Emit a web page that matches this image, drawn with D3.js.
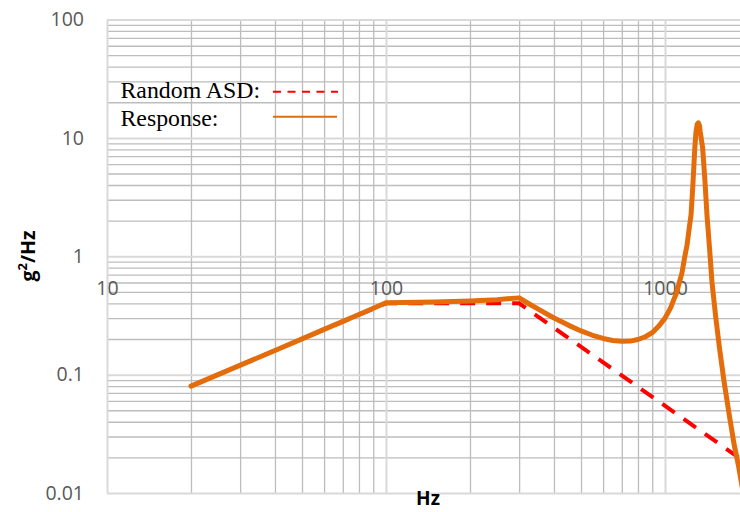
<!DOCTYPE html>
<html>
<head>
<meta charset="utf-8">
<script src="https://cdn.jsdelivr.net/npm/d3@7"></script>
<style>
  body { margin: 0; background: #fff; }
  svg { display: block; }
</style>
</head>
<body>
<div id="chart"></div>
<script>
// values
const freqLabels = [10, 100, 1000];
const ampLabels = [0.01, 0.1, 1, 10, 100];

const asdFreq = [20, 100, 300, 2000];
const asdValue = [0.08, 0.4, 0.4, 0.0173];

const respFreq = [20, 40, 60, 80, 100, 150, 200, 250, 300, 325, 350, 400, 450, 500, 550, 600, 650, 700, 750,
  800, 850, 900, 950, 1000, 1025, 1050, 1075, 1100, 1125, 1150, 1175, 1200, 1220, 1240, 1260, 1278, 1291,
  1304, 1317, 1330, 1338, 1365, 1391, 1414, 1444, 1474, 1517, 1568, 1627, 1696, 1767, 1834, 1900, 2000];
const respValue = [0.080, 0.160, 0.241, 0.322, 0.405, 0.411, 0.419, 0.430, 0.445, 0.397, 0.359, 0.301, 0.262, 0.234, 0.215, 0.202, 0.194, 0.191, 0.192,
  0.198, 0.209, 0.226, 0.257, 0.300, 0.334, 0.372, 0.430, 0.49, 0.60, 0.72, 0.97, 1.25, 1.7, 2.25, 4.2, 8.0, 11.2,
  13.0, 13.4, 12.6, 11.2, 8.1, 4.25, 2.22, 1.17, 0.60, 0.317, 0.167, 0.088, 0.047, 0.026, 0.017, 0.0105, 0.0055];

const seriesNames = ["Random ASD:", "Response:"];

const width = 740, height = 512;
const plotLeft = 107, plotRight = 749, plotTop = 19.5, plotBottom = 493;

const svg = d3.select("#chart").append("svg")
  .attr("width", width)
  .attr("height", height);

const x = d3.scaleLog().domain([10, 2000]).range([plotLeft, plotRight]);
const y = d3.scaleLog().domain([0.01, 100]).range([plotBottom, plotTop]);

svg.append("clipPath").attr("id", "plot")
  .append("rect")
  .attr("x", plotLeft).attr("y", plotTop - 3)
  .attr("width", plotRight - plotLeft).attr("height", plotBottom - plotTop + 3);

// minor gridlines
svg.append("g")
  .attr("transform", `translate(0,${plotBottom})`)
  .call(d3.axisBottom(x).tickValues(x.ticks().filter(d => !freqLabels.includes(d))).tickSize(-(plotBottom - plotTop)).tickFormat(""))
  .call(g => g.select(".domain").remove())
  .selectAll("line").attr("stroke", "#bdbdbd").attr("stroke-width", 1.3);

svg.append("g")
  .attr("transform", `translate(${plotLeft},0)`)
  .call(d3.axisLeft(y).tickValues(y.ticks().filter(d => !ampLabels.includes(d))).tickSize(-(plotRight - plotLeft)).tickFormat(""))
  .call(g => g.select(".domain").remove())
  .selectAll("line").attr("stroke", "#bdbdbd").attr("stroke-width", 1.3);

// major gridlines
svg.append("g")
  .attr("transform", `translate(0,${plotBottom})`)
  .call(d3.axisBottom(x).tickValues(freqLabels).tickSize(-(plotBottom - plotTop)).tickFormat(""))
  .call(g => g.select(".domain").remove())
  .selectAll("line").attr("stroke", "#d9d9d9").attr("stroke-width", 2);

svg.append("g")
  .attr("transform", `translate(${plotLeft},0)`)
  .call(d3.axisLeft(y).tickValues(ampLabels).tickSize(-(plotRight - plotLeft)).tickFormat(""))
  .call(g => g.select(".domain").remove())
  .selectAll("line").attr("stroke", "#d9d9d9").attr("stroke-width", 2);

// tick labels
const yAxis = svg.append("g")
  .attr("transform", `translate(${plotLeft},0)`)
  .call(d3.axisLeft(y).tickValues(ampLabels).tickSize(0).tickPadding(23).tickFormat(d3.format("~g")));
yAxis.select(".domain").remove();
yAxis.selectAll("text")
  .attr("font-family", "'Open Sans', sans-serif")
  .attr("font-size", 19.5)
  .attr("fill", "#595959");

// horizontal axis crosses at 1
const xAxis = svg.append("g")
  .attr("transform", `translate(0,${y(1)})`)
  .call(d3.axisBottom(x).tickValues(freqLabels).tickSize(0).tickFormat(d3.format("d")));
xAxis.select(".domain").remove();
xAxis.selectAll("text")
  .attr("y", 32)
  .attr("dy", "0.35em")
  .attr("font-family", "'Open Sans', sans-serif")
  .attr("font-size", 19.5)
  .attr("fill", "#595959");

// series
const line = d3.line()
  .x(d => x(d[0]))
  .y(d => y(d[1]));

const plot = svg.append("g").attr("clip-path", "url(#plot)");

plot.append("path")
  .datum(asdFreq.map((f, i) => [f, asdValue[i]]))
  .attr("fill", "none")
  .attr("stroke", "#ff0000")
  .attr("stroke-width", 4)
  .attr("stroke-dasharray", "15,11")
  .attr("d", line);

plot.append("path")
  .datum(respFreq.map((f, i) => [f, respValue[i]]))
  .attr("fill", "none")
  .attr("stroke", "#e46c0a")
  .attr("stroke-width", 5)
  .attr("stroke-linejoin", "round")
  .attr("stroke-linecap", "round")
  .attr("d", line);

// legend
const legend = svg.append("g");
legend.selectAll("text")
  .data(seriesNames)
  .enter().append("text")
  .attr("x", 120.5)
  .attr("y", (d, i) => 97.5 + i * 28.5)
  .attr("font-family", "'Liberation Serif', 'Times New Roman', serif")
  .attr("font-size", 23.8)
  .attr("fill", "#000")
  .text(d => d);

legend.append("line")
  .attr("x1", 273).attr("x2", 338)
  .attr("y1", 91.7).attr("y2", 91.7)
  .attr("stroke", "#ff0000")
  .attr("stroke-width", 2)
  .attr("stroke-dasharray", "8,6.5");

legend.append("line")
  .attr("x1", 273).attr("x2", 337)
  .attr("y1", 116.7).attr("y2", 116.7)
  .attr("stroke", "#e46c0a")
  .attr("stroke-width", 2);

// axis titles
svg.append("text")
  .attr("x", 428)
  .attr("y", 505)
  .attr("text-anchor", "middle")
  .attr("font-family", "'Open Sans', sans-serif")
  .attr("font-weight", "bold")
  .attr("font-size", 19)
  .attr("fill", "#000")
  .text("Hz");

const yTitle = svg.append("text")
  .attr("transform", "translate(35,256) rotate(-90)")
  .attr("text-anchor", "middle")
  .attr("font-family", "'Open Sans', sans-serif")
  .attr("font-weight", "bold")
  .attr("font-size", 19.5)
  .attr("fill", "#000");
yTitle.append("tspan").text("g");
yTitle.append("tspan").attr("dy", -8).attr("font-size", 13).text("2");
yTitle.append("tspan").attr("dy", 8).text("/Hz");
</script>
</body>
</html>
